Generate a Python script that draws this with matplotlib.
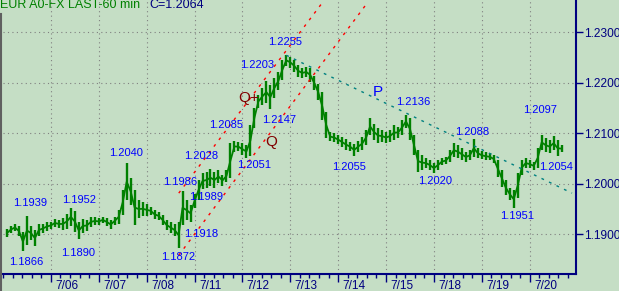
import matplotlib
matplotlib.use("Agg")
import matplotlib.pyplot as plt
import numpy as np

plt.rcParams['font.family'] = ['Liberation Sans', 'DejaVu Sans']

# 2-hour bars, x = hours since start of 7/05
hours = np.arange(2, 281, 2)
highs = [
    1.1910, 1.1916, 1.1920, 1.1916, 1.1904, 1.1936, 1.1916, 1.1908, 1.1920, 1.1920, 1.1924,
    1.1924, 1.1930, 1.1928, 1.1932, 1.1940, 1.1952, 1.1946, 1.1924, 1.1930, 1.1928, 1.1934, 1.1934,
    1.1932, 1.1934, 1.1932, 1.1928, 1.1934, 1.1948, 1.1987, 1.2040, 1.2011, 1.1987, 1.1967, 1.1964,
    1.1960, 1.1954, 1.1948, 1.1944, 1.1938, 1.1928, 1.1924, 1.1920, 1.1924, 1.1986, 1.1967, 1.1958,
    1.1979, 1.2007, 1.2021, 1.2023, 1.2028, 1.2023, 1.2027, 1.2017, 1.2027, 1.2080, 1.2085, 1.2082,
    1.2080, 1.2076, 1.2116, 1.2150, 1.2175, 1.2189, 1.2203, 1.2195, 1.2209, 1.2221, 1.2245, 1.2255,
    1.2251, 1.2245, 1.2235, 1.2229, 1.2231, 1.2229, 1.2213, 1.2197, 1.2181, 1.2142, 1.2102, 1.2100,
    1.2096, 1.2092, 1.2088, 1.2082, 1.2078, 1.2084, 1.2092, 1.2106, 1.2130, 1.2118, 1.2110, 1.2106,
    1.2102, 1.2106, 1.2116, 1.2112, 1.2126, 1.2136, 1.2130, 1.2096, 1.2066, 1.2056, 1.2050, 1.2046,
    1.2041, 1.2046, 1.2050, 1.2052, 1.2066, 1.2080, 1.2076, 1.2070, 1.2062, 1.2066, 1.2088, 1.2070,
    1.2064, 1.2062, 1.2060, 1.2056, 1.2046, 1.2027, 1.2007, 1.1991, 1.1987, 1.2021, 1.2046, 1.2050,
    1.2046, 1.2043, 1.2070, 1.2097, 1.2090, 1.2086, 1.2094, 1.2086, 1.2076,
]
lows = [
    1.1894, 1.1902, 1.1906, 1.1896, 1.1866, 1.1878, 1.1888, 1.1876, 1.1896, 1.1902, 1.1906,
    1.1910, 1.1914, 1.1912, 1.1908, 1.1910, 1.1916, 1.1904, 1.1890, 1.1902, 1.1906, 1.1914, 1.1918,
    1.1918, 1.1922, 1.1916, 1.1910, 1.1918, 1.1920, 1.1938, 1.1967, 1.1958, 1.1918, 1.1932, 1.1936,
    1.1936, 1.1938, 1.1930, 1.1928, 1.1918, 1.1908, 1.1902, 1.1896, 1.1872, 1.1918, 1.1928, 1.1924,
    1.1952, 1.1967, 1.1989, 1.1991, 1.1995, 1.1991, 1.2001, 1.1995, 1.2003, 1.2011, 1.2062, 1.2064,
    1.2056, 1.2051, 1.2054, 1.2110, 1.2150, 1.2156, 1.2159, 1.2147, 1.2169, 1.2185, 1.2205, 1.2233,
    1.2229, 1.2221, 1.2211, 1.2209, 1.2211, 1.2201, 1.2185, 1.2165, 1.2126, 1.2090, 1.2084, 1.2082,
    1.2078, 1.2072, 1.2066, 1.2064, 1.2055, 1.2062, 1.2066, 1.2076, 1.2096, 1.2086, 1.2080, 1.2082,
    1.2080, 1.2082, 1.2086, 1.2090, 1.2096, 1.2110, 1.2086, 1.2056, 1.2023, 1.2027, 1.2031, 1.2027,
    1.2020, 1.2027, 1.2037, 1.2039, 1.2043, 1.2052, 1.2050, 1.2046, 1.2043, 1.2046, 1.2052, 1.2050,
    1.2048, 1.2046, 1.2046, 1.2041, 1.2013, 1.1993, 1.1977, 1.1967, 1.1951, 1.1971, 1.2017, 1.2031,
    1.2031, 1.2027, 1.2031, 1.2066, 1.2062, 1.2060, 1.2066, 1.2054, 1.2062,
]
dates = ['7/06', '7/07', '7/08', '7/11', '7/12', '7/13', '7/14', '7/15', '7/18', '7/19', '7/20']
price_ticks = [1.19, 1.20, 1.21, 1.22, 1.23]

# price annotations: text, hour, price
notes = [
    ('1.1866', 11.8, 1.1845), ('1.1939', 13.8, 1.1962), ('1.1952', 38.2, 1.1967),
    ('1.1890', 37.7, 1.1863), ('1.2040', 61.7, 1.2061), ('1.1986', 88.6, 1.2003),
    ('1.1872', 87.6, 1.1855), ('1.2028', 99.1, 1.2055), ('1.1989', 101.6, 1.1973),
    ('1.1918', 99.1, 1.1900), ('1.2085', 111.6, 1.2116), ('1.2051', 126.0, 1.2037),
    ('1.2147', 138.5, 1.2126), ('1.2203', 127.5, 1.2235), ('1.2255', 141.5, 1.2280),
    ('1.2055', 173.4, 1.2033), ('1.2136', 205.4, 1.2161), ('1.2020', 216.4, 1.2005),
    ('1.2088', 235.3, 1.2102), ('1.2097', 269.3, 1.2146), ('1.2054', 277.3, 1.2033),
    ('1.1951', 257.8, 1.1936),
]
letters = [('Q+', 123.1, 1.2169, '#800000'), ('Q', 134.5, 1.2082, '#800000'),
           ('P', 187.9, 1.2181, '#0000ff')]

# trend lines: (hour, price) end points
chan_a = [(88.1, 1.1981), (161.0, 1.2363)]
chan_b = [(88.1, 1.1858), (181.9, 1.2354)]
line_p = [(142.0, 1.2254), (285.2, 1.1981)]

bg = '#c5dec5'
navy = '#000080'
fig = plt.figure(figsize=(6.19, 2.91), dpi=100, facecolor=bg)
ax = fig.add_axes([3 / 619, 17 / 291, 573 / 619, 274 / 291], facecolor=bg)
ax.set_xlim(1.3, 287.2)
ax.set_ylim(1.18209, 1.23634)

days = np.arange(1, 12) * 24
for d in days:
    ax.axvline(d, color='#808080', lw=0.8, ls=(0, (1, 3)), zorder=1)
for p in price_ticks:
    ax.axhline(p, color='#808080', lw=0.8, ls=(0, (1, 3)), zorder=1)

ax.vlines(hours, lows, highs, color='#008000', lw=1.7, zorder=3)
mids = (np.array(highs) + np.array(lows)) / 2
ax.plot(hours, mids, color='#008000', lw=1.3, zorder=3)

for (a, b), c in [(chan_a, 'red'), (chan_b, 'red'), (line_p, '#008080')]:
    ax.plot([a[0], b[0]], [a[1], b[1]], color=c, lw=1, ls=(0, (2, 4)), zorder=4)

for t, h, p in notes:
    ax.text(h, p, t, color='#0000ff', fontsize=8, ha='center', va='center', zorder=5)
for t, h, p, c in letters:
    ax.text(h, p, t, color=c, fontsize=11, ha='center', va='center', zorder=5)

ax.yaxis.tick_right()
ax.set_yticks(price_ticks)
ax.set_yticklabels(['%.4f' % p for p in price_ticks])
ax.tick_params(axis='y', direction='out', length=5, width=1, color=navy,
               labelcolor=navy, labelsize=8.6, pad=0.5)
ax.set_xticks(days)
ax.set_xticklabels([])
ax.set_xticks(np.arange(0, 288, 4.8), minor=True)
ax.tick_params(axis='x', which='major', direction='out', length=6, width=1, color=navy)
ax.tick_params(axis='x', which='minor', direction='out', length=3, width=1, color=navy)
for d, lab in zip(days, dates):
    ax.text(d + 2.2, -0.045, lab, transform=ax.get_xaxis_transform(), color=navy,
            fontsize=8.5, ha='left', va='center')

for s in ['top', 'left']:
    ax.spines[s].set_visible(False)
for s in ['right', 'bottom']:
    ax.spines[s].set_color(navy)
    ax.spines[s].set_linewidth(1.5)

fig.add_artist(plt.Line2D([1 / 619, 1 / 619], [0, 1 - 14 / 291], color='#606060', lw=1.5))
fig.text(0.5 / 619, 1 - 8.5 / 291, 'EUR A0-FX LAST-60 min', color='#008000',
         fontsize=9, va='baseline', ha='left')
fig.text(149 / 619, 1 - 8.5 / 291, 'C=1.2064', color=navy, fontsize=9,
         va='baseline', ha='left')

fig.savefig('out.png', dpi=100, facecolor=bg)
